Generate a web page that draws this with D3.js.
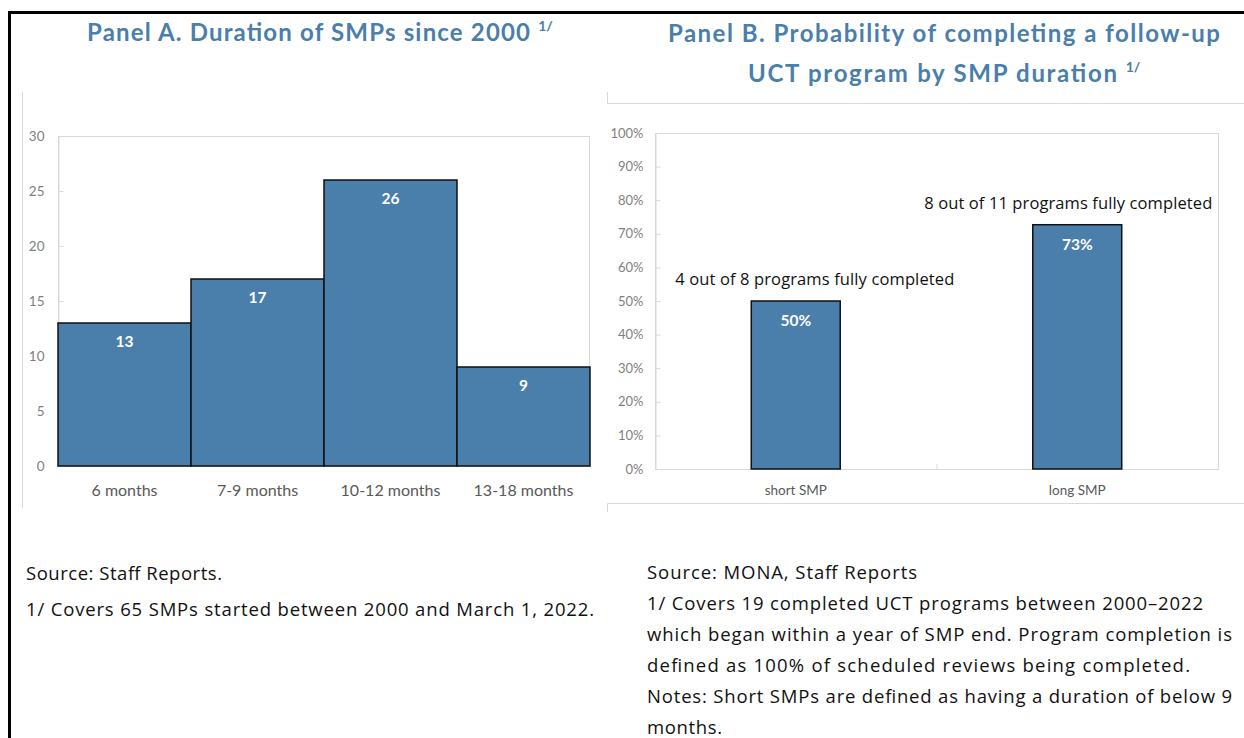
<!DOCTYPE html>
<html>
<head>
<meta charset="utf-8">
<script src="https://cdn.jsdelivr.net/npm/d3@7"></script>
<style>
  body { margin: 0; background: #fff; }
  text { font-family: Lato, "Open Sans", sans-serif; }
  text.body-txt { font-family: "Open Sans", Lato, sans-serif; }
</style>
</head>
<body>
<svg id="chart" width="1244" height="738"></svg>
<script>
// Panel A data
var catsA = ["6 months", "7-9 months", "10-12 months", "13-18 months"];
var valsA = [13, 17, 26, 9];
var ticksA = [0, 5, 10, 15, 20, 25, 30];

// Panel B data
var catsB = ["short SMP", "long SMP"];
var valsB = [0.50, 0.727];
var labelsB = ["50%", "73%"];
var notesB = ["4 out of 8 programs fully completed", "8 out of 11 programs fully completed"];
var ticksB = [0, 0.1, 0.2, 0.3, 0.4, 0.5, 0.6, 0.7, 0.8, 0.9, 1.0];

// footnotes
var footA = ["Source: Staff Reports.", "1/ Covers 65 SMPs started between 2000 and March 1, 2022."];
var footB = [
  "Source: MONA, Staff Reports",
  "1/ Covers 19 completed UCT programs between 2000\u20132022",
  "which began within a year of SMP end. Program completion is",
  "defined as 100% of scheduled reviews being completed.",
  "Notes: Short SMPs are defined as having a duration of below 9",
  "months."
];

// text widths as set in the original
var footAW = [196, 568];
var footBW = [270, 556, 585, 543, 585, 75];
var notesBW = [279, 288];

var barFill = "#4a7eab";
var titleCol = "#4a7eab";
var gridCol = "#d9d9d9";
var tickCol = "#7f7f7f";

var svg = d3.select("#chart");

// outer black border (top and left)
svg.append("line").attr("x1", 8).attr("x2", 1244).attr("y1", 12.5).attr("y2", 12.5)
  .attr("stroke", "#000").attr("stroke-width", 3);
svg.append("line").attr("x1", 9.5).attr("x2", 9.5).attr("y1", 11).attr("y2", 738)
  .attr("stroke", "#000").attr("stroke-width", 3);

// chart frames
svg.append("line").attr("x1", 22.5).attr("x2", 22.5).attr("y1", 92).attr("y2", 508)
  .attr("stroke", gridCol);
svg.append("path").attr("d", "M607.5,92V103.5H1244").attr("fill", "none").attr("stroke", gridCol);
svg.append("path").attr("d", "M607.5,512V503.5H1244").attr("fill", "none").attr("stroke", gridCol);

// titles
function title(x, y, txt, w, sup) {
  var t = svg.append("text").attr("x", x).attr("y", y)
    .attr("font-size", 24).attr("font-weight", "bold").attr("fill", titleCol);
  t.append("tspan").attr("textLength", w).attr("lengthAdjust", "spacing").text(txt);
  if (sup) {
    t.append("tspan").attr("dx", 7).attr("dy", -10).attr("font-size", 14).text(sup);
  }
}
title(87, 41, "Panel A. Duration of SMPs since 2000", 443, "1/");
title(668, 42, "Panel B. Probability  of completing a follow-up", 552, null);
title(748, 82, "UCT program by SMP duration", 369, "1/");

// ---------- Panel A ----------
var xA = d3.scaleBand().domain(catsA).range([58, 590]).padding(0);
var yA = d3.scaleLinear().domain([0, 30]).range([466, 136]);

var gA = svg.append("g");
gA.append("rect").attr("x", 58.5).attr("y", yA(30) + 0.5)
  .attr("width", 531).attr("height", yA(0) - yA(30))
  .attr("fill", "none").attr("stroke", gridCol);

var axA = gA.append("g").attr("transform", "translate(58.5,0)")
  .call(d3.axisLeft(yA).tickValues(ticksA).tickSizeInner(-5).tickSizeOuter(0).tickPadding(14));
axA.select(".domain").attr("stroke", gridCol);
axA.selectAll(".tick line").attr("stroke", gridCol);
axA.selectAll(".tick text").attr("fill", tickCol).attr("font-size", 13.5)
  .style("font-family", "Lato, sans-serif");

gA.selectAll(".barA").data(valsA).enter().append("rect")
  .attr("x", function(d, i) { return xA(catsA[i]); })
  .attr("y", function(d) { return yA(d); })
  .attr("width", xA.bandwidth())
  .attr("height", function(d) { return yA(0) - yA(d); })
  .attr("fill", barFill).attr("stroke", "#111").attr("stroke-width", 1.5);

gA.selectAll(".valA").data(valsA).enter().append("text")
  .attr("x", function(d, i) { return xA(catsA[i]) + xA.bandwidth() / 2; })
  .attr("y", function(d) { return yA(d) + 24; })
  .attr("text-anchor", "middle").attr("fill", "#fff")
  .attr("font-size", 15.5).attr("font-weight", "bold")
  .text(function(d) { return d; });

var axAx = gA.append("g").attr("transform", "translate(0," + yA(0) + ")")
  .call(d3.axisBottom(xA).tickSize(0).tickPadding(19));
axAx.select(".domain").remove();
axAx.selectAll(".tick text").attr("fill", "#595959").attr("font-size", 16)
  .style("font-family", "Lato, sans-serif");

// ---------- Panel B ----------
var xB = d3.scaleBand().domain(catsB).range([655, 1218]).padding(0);
var yB = d3.scaleLinear().domain([0, 1]).range([469, 133]);
var bw = xB.bandwidth() * 0.316;

var gB = svg.append("g");
gB.append("rect").attr("x", 655.5).attr("y", yB(1) + 0.5)
  .attr("width", 563).attr("height", yB(0) - yB(1))
  .attr("fill", "none").attr("stroke", gridCol);

var axB = gB.append("g").attr("transform", "translate(655.5,0)")
  .call(d3.axisLeft(yB).tickValues(ticksB).tickFormat(d3.format(".0%"))
    .tickSizeInner(-5).tickSizeOuter(0).tickPadding(12));
axB.select(".domain").attr("stroke", gridCol);
axB.selectAll(".tick line").attr("stroke", gridCol);
axB.selectAll(".tick text").attr("fill", tickCol).attr("font-size", 13)
  .style("font-family", "Lato, sans-serif");

// category boundary tick
gB.append("line")
  .attr("x1", xB(catsB[1]) + 0.5).attr("x2", xB(catsB[1]) + 0.5)
  .attr("y1", yB(0)).attr("y2", yB(0) - 5).attr("stroke", gridCol);

gB.selectAll(".barB").data(valsB).enter().append("rect")
  .attr("x", function(d, i) { return xB(catsB[i]) + (xB.bandwidth() - bw) / 2; })
  .attr("y", function(d) { return yB(d); })
  .attr("width", bw)
  .attr("height", function(d) { return yB(0) - yB(d); })
  .attr("fill", barFill).attr("stroke", "#111").attr("stroke-width", 1.5);

gB.selectAll(".valB").data(valsB).enter().append("text")
  .attr("x", function(d, i) { return xB(catsB[i]) + xB.bandwidth() / 2; })
  .attr("y", function(d) { return yB(d) + 25; })
  .attr("text-anchor", "middle").attr("fill", "#fff")
  .attr("font-size", 15.5).attr("font-weight", "bold")
  .text(function(d, i) { return labelsB[i]; });

var noteDx = [19, -9];
gB.selectAll(".noteB").data(valsB).enter().append("text")
  .attr("class", "body-txt")
  .attr("x", function(d, i) { return xB(catsB[i]) + xB.bandwidth() / 2 + noteDx[i] - notesBW[i] / 2; })
  .attr("y", function(d) { return yB(d) - 16; })
  .attr("fill", "#111")
  .attr("font-size", 16.5)
  .attr("textLength", function(d, i) { return notesBW[i]; })
  .attr("lengthAdjust", "spacing")
  .text(function(d, i) { return notesB[i]; });

var axBx = gB.append("g").attr("transform", "translate(0," + yB(0) + ")")
  .call(d3.axisBottom(xB).tickSize(0).tickPadding(16));
axBx.select(".domain").remove();
axBx.selectAll(".tick text").attr("fill", "#595959").attr("font-size", 13.5)
  .style("font-family", "Lato, sans-serif");

// ---------- footnotes ----------
svg.append("g").selectAll("text").data(footA).enter().append("text")
  .attr("class", "body-txt")
  .attr("x", 26).attr("y", function(d, i) { return 580 + i * 36; })
  .attr("font-size", 18.5).attr("fill", "#111")
  .attr("textLength", function(d, i) { return footAW[i]; })
  .attr("lengthAdjust", "spacing")
  .text(function(d) { return d; });

svg.append("g").selectAll("text").data(footB).enter().append("text")
  .attr("class", "body-txt")
  .attr("x", 647).attr("y", function(d, i) { return 579 + i * 31; })
  .attr("font-size", 18.5).attr("fill", "#111")
  .attr("textLength", function(d, i) { return footBW[i]; })
  .attr("lengthAdjust", "spacing")
  .text(function(d) { return d; });
</script>
</body>
</html>
